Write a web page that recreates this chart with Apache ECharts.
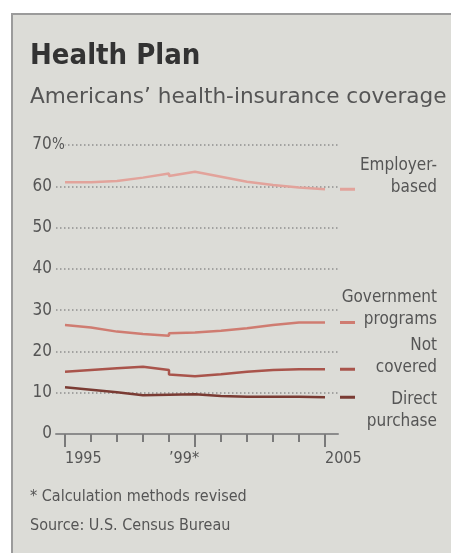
<!DOCTYPE html>
<html>
<head>
<meta charset="utf-8">
<script src="https://cdn.jsdelivr.net/npm/echarts@6/dist/echarts.min.js"></script>
<style>
  html, body { margin: 0; padding: 0; background: #ffffff; }
  #panel { position: absolute; left: 11px; top: 13px; width: 440px; height: 540px;
           background: #dcdcd7; border-left: 2px solid #9b9b9b; border-top: 2px solid #9b9b9b; box-sizing: border-box; }
  #chart { position: absolute; left: 0; top: 0; width: 451px; height: 555px; }
</style>
</head>
<body>
<div id="panel"></div>
<div id="chart"></div>
<script>
// ---- data ----
const years = [1995, 1996, 1997, 1998, 1999, 1999, 2000, 2001, 2002, 2003, 2004, 2005];
const employerBased = [61.0, 61.0, 61.3, 62.1, 63.1, 62.5, 63.5, 62.3, 61.1, 60.3, 59.7, 59.3];
const governmentPrograms = [26.4, 25.8, 24.8, 24.2, 23.8, 24.4, 24.6, 25.0, 25.6, 26.4, 27.0, 27.0];
const notCovered = [15.1, 15.5, 15.9, 16.3, 15.5, 14.4, 14.0, 14.5, 15.1, 15.5, 15.7, 15.7];
const directPurchase = [11.3, 10.7, 10.1, 9.4, 9.5, 9.9, 9.6, 9.2, 9.0, 9.0, 9.0, 8.9];
const yTicks = [0, 10, 20, 30, 40, 50, 60, 70];
const xTickYears = [1995, 1996, 1997, 1998, 1999, 2000, 2001, 2002, 2003, 2004, 2005];
const xMajorYears = [1995, 2000, 2005];
const xLabelYears = [1995, 1999, 2005];
const xLabelText = { 1995: '1995', 1999: '\u201999*', 2005: '2005' };
const seriesNames = ['Employer-\nbased', 'Government\nprograms', 'Not\ncovered', 'Direct\npurchase'];

const FONT = '"DejaVu Sans Condensed", "DejaVu Sans", sans-serif';
const PANEL = '#dcdcd7';
const colors = ['#e2a39b', '#cf7c71', '#a9544b', '#7a3b33'];
const allSeries = [employerBased, governmentPrograms, notCovered, directPurchase];

const chart = echarts.init(document.getElementById('chart'), null, { renderer: 'canvas' });

const lineSeries = allSeries.map((vals, i) => ({
  type: 'line',
  name: seriesNames[i],
  xAxisIndex: 0,
  yAxisIndex: 0,
  data: years.map((y, k) => [y, vals[k]]),
  showSymbol: false,
  symbol: 'none',
  lineStyle: { color: colors[i], width: 2.5 },
  z: 3,
  silent: true
}));

// short key dashes to the right of the plot, at each series' final value (own small grid)
const keySeries = allSeries.map((vals, i) => ({
  type: 'line',
  xAxisIndex: 2,
  yAxisIndex: 1,
  data: [[0, vals[vals.length - 1]], [1, vals[vals.length - 1]]],
  showSymbol: false,
  symbol: 'none',
  lineStyle: { color: colors[i], width: 3 },
  z: 3,
  silent: true
}));

const labelBlocks = [
  { text: seriesNames[0], y: 177 },
  { text: seriesNames[1], y: 309 },
  { text: seriesNames[2], y: 357 },
  { text: seriesNames[3], y: 411 }
];

const option = {
  animation: false,
  backgroundColor: 'transparent',
  grid: [
    { left: 56, right: 113, top: 145, bottom: 121 },
    { left: 340, width: 15, top: 145, bottom: 121 }
  ],
  xAxis: [
    {
      type: 'value', gridIndex: 0,
      min: 1995 - 9 / 26,
      max: 2005.5,
      position: 'bottom',
      axisLine: { show: true, lineStyle: { color: '#8c8c8c', width: 2 } },
      axisTick: { show: true, customValues: xTickYears, length: 8, lineStyle: { color: '#7a7a7a', width: 2 } },
      axisLabel: {
        show: true, customValues: xLabelYears, align: 'left', margin: 17,
        formatter: v => xLabelText[v] || '',
        fontFamily: FONT, fontSize: 16, color: '#555'
      },
      splitLine: { show: false }
    },
    {
      type: 'value', gridIndex: 0,
      min: 1995 - 9 / 26,
      max: 2005.5,
      position: 'bottom',
      axisLine: { show: false },
      axisTick: { show: true, customValues: xMajorYears, length: 13, lineStyle: { color: '#7a7a7a', width: 2 } },
      axisLabel: { show: false },
      splitLine: { show: false }
    },
    {
      type: 'value', gridIndex: 1, min: 0, max: 1, show: false
    }
  ],
  yAxis: [
    {
      type: 'value', gridIndex: 0,
      min: 0, max: 70, interval: 10,
      axisLine: { show: false },
      axisTick: { show: false },
      splitLine: { show: true, lineStyle: { color: '#8f8f8f', width: 1.5, type: [1.5, 2.5] } },
      axisLabel: {
        margin: 24, align: 'left',
        formatter: v => v === 70 ? '{n|' + v + '}{p|%}' : '{n|' + v + '}',
        rich: {
          n: { width: 20, align: 'right', fontFamily: FONT, fontSize: 17, color: '#555' },
          p: { fontFamily: FONT, fontSize: 15, color: '#555', backgroundColor: PANEL }
        }
      }
    },
    {
      type: 'value', gridIndex: 1, min: 0, max: 70, interval: 10, show: false
    }
  ],
  graphic: [
    { type: 'text', x: 30, y: 56, style: { text: 'Health Plan', font: 'bold 29px ' + FONT, fill: '#333', textAlign: 'left', textVerticalAlign: 'middle' } },
    { type: 'text', x: 30, y: 97, style: { text: 'Americans\u2019 health-insurance coverage', font: '21.6px "DejaVu Sans", sans-serif', fill: '#555', textAlign: 'left', textVerticalAlign: 'middle' } },
    { type: 'text', x: 30, y: 497, style: { text: '* Calculation methods revised', font: '16px ' + FONT, fill: '#555', textAlign: 'left', textVerticalAlign: 'middle' } },
    { type: 'text', x: 30, y: 526, style: { text: 'Source: U.S. Census Bureau', font: '16px ' + FONT, fill: '#555', textAlign: 'left', textVerticalAlign: 'middle' } }
  ].concat(labelBlocks.map(b => ({
    type: 'text', x: 437, y: b.y,
    style: { text: b.text, font: '17px ' + FONT, fill: '#555', textAlign: 'right', textVerticalAlign: 'middle', lineHeight: 22 }
  }))),
  series: lineSeries.concat(keySeries)
};

chart.setOption(option);
</script>
</body>
</html>
